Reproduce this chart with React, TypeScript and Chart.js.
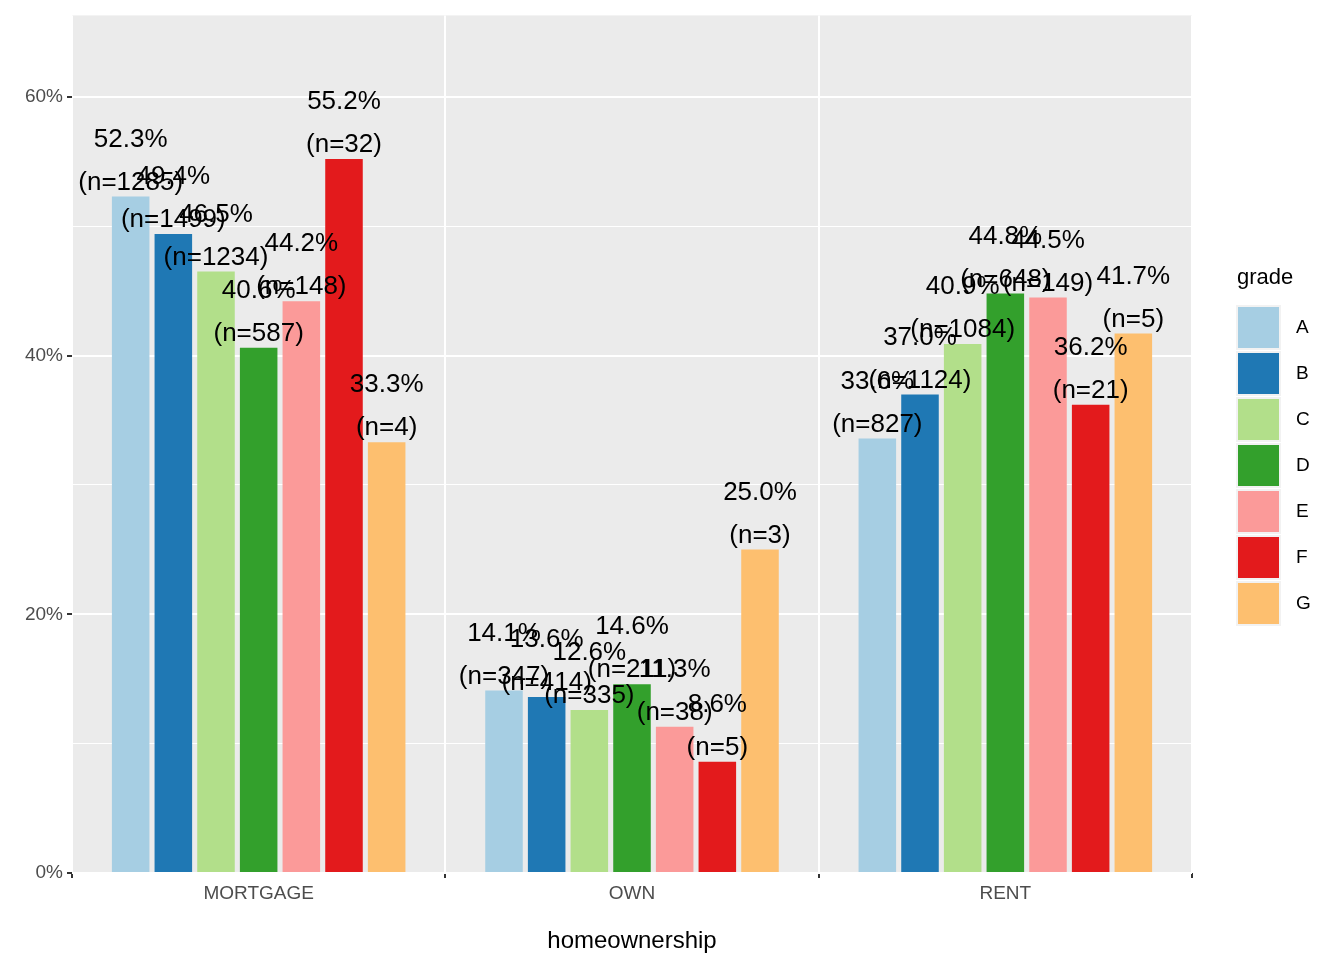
import React, { useEffect, useRef } from "react";
import { Chart, registerables } from "chart.js";
Chart.register(...registerables);

const categories = ["MORTGAGE", "OWN", "RENT"];
const grades = ["A", "B", "C", "D", "E", "F", "G"];
const colors = ["#A6CEE3", "#1F78B4", "#B2DF8A", "#33A02C", "#FB9A99", "#E31A1C", "#FDBF6F"];
const pctA = [52.3, 14.1, 33.6];
const pctB = [49.4, 13.6, 37.0];
const pctC = [46.5, 12.6, 40.9];
const pctD = [40.6, 14.6, 44.8];
const pctE = [44.2, 11.3, 44.5];
const pctF = [55.2, 8.6, 36.2];
const pctG = [33.3, 25.0, 41.7];
const nA = [1285, 347, 827];
const nB = [1499, 414, 1124];
const nC = [1234, 335, 1084];
const nD = [587, 211, 648];
const nE = [148, 38, 149];
const nF = [32, 5, 21];
const nG = [4, 3, 5];
const pcts = [pctA, pctB, pctC, pctD, pctE, pctF, pctG];
const ns = [nA, nB, nC, nD, nE, nF, nG];
const yTicks = [0, 20, 40, 60];
const FONT = "'Liberation Sans', Arial, sans-serif";

export default function App() {
  const ref = useRef<HTMLCanvasElement>(null);
  useEffect(() => {
    const bgPlugin = {
      id: "bg",
      beforeDraw(c: any) {
        const { ctx, chartArea: a } = c;
        ctx.save();
        ctx.fillStyle = "#EBEBEB";
        ctx.fillRect(a.left, a.top, a.right - a.left, a.bottom - a.top);
        ctx.restore();
      },
      afterDraw(c: any) {
        const ctx = c.ctx;
        ctx.save();
        ctx.fillStyle = "#000";
        ctx.textAlign = "center";
        ctx.textBaseline = "middle";
        ctx.font = `26px ${FONT}`;
        c.data.datasets.forEach((ds: any, i: number) => {
          const meta = c.getDatasetMeta(i);
          meta.data.forEach((bar: any, j: number) => {
            ctx.fillText(pcts[i][j].toFixed(1) + "%", bar.x, bar.y - 57);
            ctx.fillText(`(n=${ns[i][j]})`, bar.x, bar.y - 14);
          });
        });
        // legend
        ctx.textAlign = "left";
        ctx.font = `22px ${FONT}`;
        ctx.fillText("grade", 1237, 278);
        grades.forEach((g, i) => {
          const y = 305 + i * 46;
          ctx.fillStyle = "#F2F2F2";
          ctx.fillRect(1236, y, 45, 45);
          ctx.fillStyle = colors[i];
          ctx.fillRect(1238, y + 2, 41, 41);
          ctx.fillStyle = "#000";
          ctx.font = `19px ${FONT}`;
          ctx.fillText(g, 1296, y + 23);
        });
        ctx.restore();
      },
    };
    const chart = new Chart(ref.current!, {
      type: "bar",
      data: {
        labels: categories,
        datasets: grades.map((g, i) => ({
          label: g,
          data: pcts[i],
          backgroundColor: colors[i],
          categoryPercentage: 0.8,
          barPercentage: 0.88,
        })),
      },
      options: {
        animation: false,
        responsive: false,
        layout: { padding: { top: 14, right: 152, left: 0, bottom: 0 } },
        plugins: { legend: { display: false }, tooltip: { enabled: false } },
        scales: {
          x: {
            afterFit: (s: any) => { s.height = 87; },
            grid: { color: "#FFFFFF", lineWidth: 2, tickColor: "#333333", tickLength: 5, drawOnChartArea: true },
            border: { display: false },
            ticks: { color: "#4D4D4D", font: { size: 19, family: FONT }, padding: 4 },
            title: { display: true, text: "homeownership", color: "#000", font: { size: 24, family: FONT }, padding: { top: 0 } },
          },
          y: {
            min: 0,
            max: 66.3,
            afterFit: (s: any) => { s.width = 72; },
            afterBuildTicks: (s: any) => {
              s.ticks = [0, 10, 20, 30, 40, 50, 60].map((v) => ({ value: v }));
            },
            grid: {
              color: "#FFFFFF",
              lineWidth: (ctx: any) => (yTicks.includes(ctx.tick?.value) ? 2 : 1),
              tickColor: (ctx: any) => (yTicks.includes(ctx.tick?.value) ? "#333333" : "rgba(0,0,0,0)"),
              tickLength: 5,
            },
            border: { display: false },
            ticks: {
              color: "#4D4D4D",
              font: { size: 19, family: FONT },
              padding: 4,
              callback: (v: any) => (yTicks.includes(v) ? v + "%" : ""),
            },
          },
        },
      },
      plugins: [bgPlugin],
    });
    return () => chart.destroy();
  }, []);
  return (
    <div style={{ position: "fixed", left: 0, top: 0, width: 1344, height: 960, background: "#fff" }}>
      <canvas ref={ref} width={1344} height={960} style={{ width: 1344, height: 960 }} />
    </div>
  );
}
